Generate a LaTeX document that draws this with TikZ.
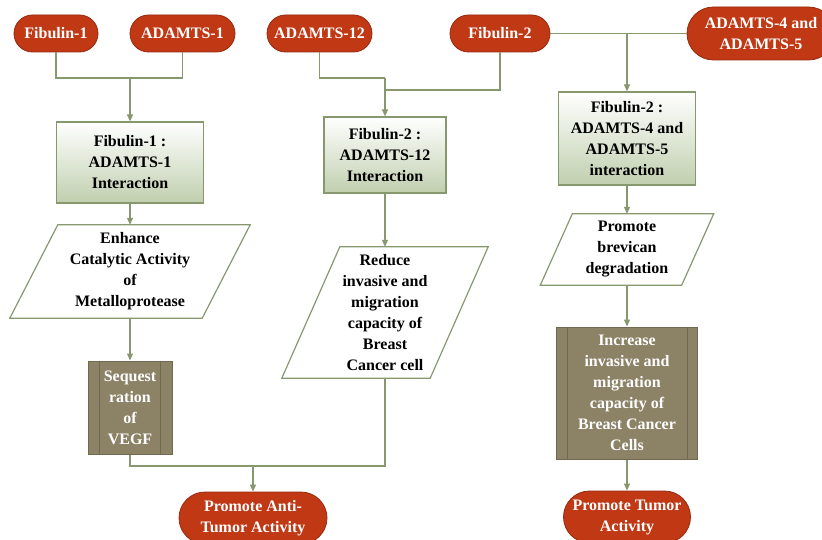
\documentclass[tikz,border=0pt]{standalone}
\usepackage{fontspec}
\setmainfont{Liberation Serif}
\usetikzlibrary{shapes.misc,arrows.meta}
\definecolor{pillred}{RGB}{192,56,20}
\definecolor{pillborder}{RGB}{150,42,16}
\definecolor{linegreen}{RGB}{135,152,110}
\definecolor{boxbot}{RGB}{192,207,174}
\definecolor{brownfill}{RGB}{140,130,102}
\definecolor{brownline}{RGB}{112,104,80}
\newcommand{\dfont}{\bfseries\fontsize{16}{21}\selectfont}
\begin{document}
\begin{tikzpicture}[x=1pt,y=-1pt,
  pill/.style={rounded rectangle, fill=pillred, draw=pillborder, line width=0.8pt,
    text=white, font=\dfont, align=center, inner sep=0pt, minimum height=37pt},
  gbox/.style={rectangle, draw=linegreen, line width=1.2pt, top color=white,
    bottom color=boxbot, font=\dfont, align=center, inner sep=0pt},
  ptext/.style={rectangle, align=center, font=\dfont, inner sep=0pt},
  pshape/.style={draw=linegreen, line width=1.2pt},
  bbox/.style={rectangle, fill=brownfill, draw=brownline, line width=1pt,
    text=white, font=\dfont, align=center, inner sep=0pt},
  bline/.style={draw=brownline, line width=1pt},
  conn/.style={draw=linegreen, line width=1.2pt},
  arr/.style={conn, -{Triangle[length=7pt,width=6pt]}}
]
\useasboundingbox (0,0) rectangle (822,540);
\clip (0,0) rectangle (822,540);

% top pills
\node[pill, minimum width=84pt] (f1) at (56,33.5) {Fibulin-1};
\node[pill, minimum width=105pt] (a1) at (182.5,33.5) {ADAMTS-1};
\node[pill, minimum width=105pt] (a12) at (319.5,33.5) {ADAMTS-12};
\node[pill, minimum width=100pt] (f2) at (500,33.5) {Fibulin-2};
\node[pill, minimum width=148pt, minimum height=53pt] (a45) at (761,33.5) {ADAMTS-4 and\\ADAMTS-5};

% interaction boxes
\node[gbox, minimum width=147pt, minimum height=81pt] (b1) at (130,162.5) {Fibulin-1 :\\ADAMTS-1\\Interaction};
\node[gbox, minimum width=122pt, minimum height=76pt] (b2) at (385,155) {Fibulin-2 :\\ADAMTS-12\\Interaction};
\node[gbox, minimum width=137pt, minimum height=93pt] (b3) at (627,138.5) {Fibulin-2 :\\ADAMTS-4 and\\ADAMTS-5\\interaction};

% parallelograms
\node[ptext, minimum width=192pt, minimum height=93pt] (p1) at (130,271.5) {Enhance\\Catalytic Activity\\of\\Metalloprotease};
\draw[pshape] ([xshift=-24pt]p1.south west) -- ([xshift=-24pt]p1.south east)
  -- ([xshift=24pt]p1.north east) -- ([xshift=24pt]p1.north west) -- cycle;
\node[ptext, minimum width=148pt, minimum height=131pt] (p2) at (385,312.5) {Reduce\\invasive and\\migration\\capacity of\\Breast\\Cancer cell};
\draw[pshape] ([xshift=-29pt]p2.south west) -- ([xshift=-29pt]p2.south east)
  -- ([xshift=29pt]p2.north east) -- ([xshift=29pt]p2.north west) -- cycle;
\node[ptext, minimum width=141pt, minimum height=71pt] (p3) at (627,249.5) {Promote\\brevican\\degradation};
\draw[pshape] ([xshift=-16pt]p3.south west) -- ([xshift=-16pt]p3.south east)
  -- ([xshift=16pt]p3.north east) -- ([xshift=16pt]p3.north west) -- cycle;

% brown boxes
\node[bbox, minimum width=84pt, minimum height=93pt] (s1) at (130,407.5) {Sequest\\ration\\of\\VEGF};
\draw[bline] ([xshift=12pt]s1.north west) -- ([xshift=12pt]s1.south west);
\draw[bline] ([xshift=-12pt]s1.north east) -- ([xshift=-12pt]s1.south east);
\node[bbox, minimum width=141pt, minimum height=132pt] (s2) at (627,393) {Increase\\invasive and\\migration\\capacity of\\Breast Cancer\\Cells};
\draw[bline] ([xshift=11pt]s2.north west) -- ([xshift=11pt]s2.south west);
\draw[bline] ([xshift=-11pt]s2.north east) -- ([xshift=-11pt]s2.south east);

% bottom pills
\node[pill, minimum width=148pt, minimum height=52pt] (pat) at (253,518) {Promote Anti-\\Tumor Activity};
\node[pill, minimum width=127pt, minimum height=52pt] (pt) at (627,517) {Promote Tumor\\Activity};

% connectors
\coordinate (j1) at (130,78);
\draw[conn] (f1.south) |- (j1) -| (a1.south);
\draw[arr] (j1) -- (b1.north);
\coordinate (j2) at (385,78);
\coordinate (j3) at (385,90);
\draw[conn] (a12.south) |- (j2);
\draw[conn] (f2.south) |- (j3);
\draw[arr] (j2) -- (b2.north);
\coordinate (j4) at (627,33.5);
\draw[conn] (f2.east) -- (a45.west);
\draw[arr] (j4) -- (b3.north);

\draw[arr] (b1.south) -- (p1.north);
\draw[arr] (p1.south) -- (s1.north);
\draw[arr] (b2.south) -- (p2.north);
\draw[arr] (b3.south) -- (p3.north);
\draw[arr] (p3.south) -- (s2.north);
\draw[arr] (s2.south) -- (pt.north);

\coordinate (j5) at (253,466);
\draw[conn] (s1.south) |- (j5) -| (p2.south);
\draw[arr] (j5) -- (pat.north);
\end{tikzpicture}
\end{document}
